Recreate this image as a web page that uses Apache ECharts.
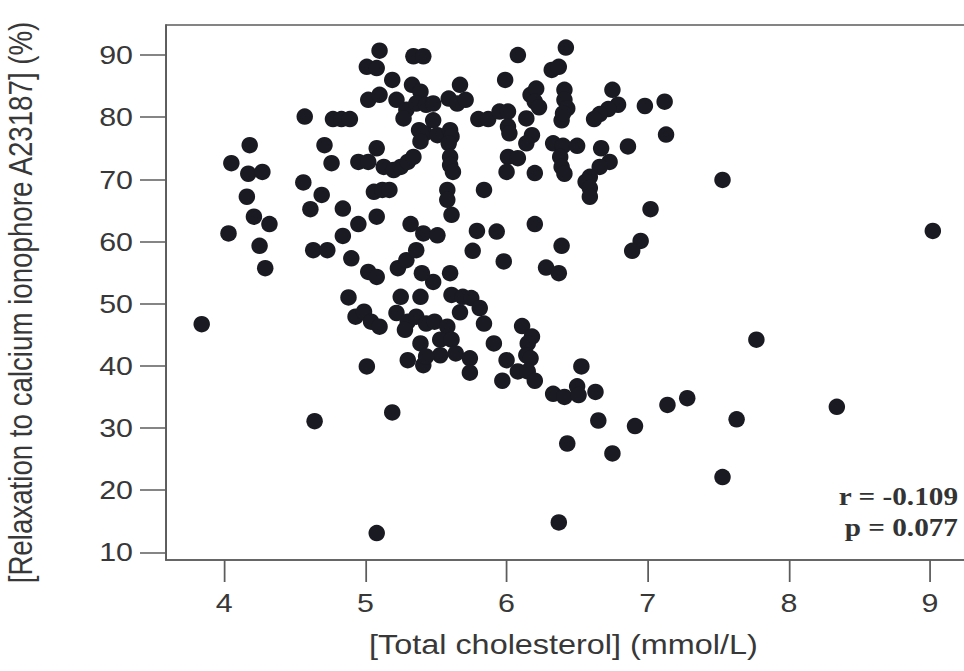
<!DOCTYPE html>
<html>
<head>
<meta charset="utf-8">
<script src="https://cdn.jsdelivr.net/npm/echarts@6/dist/echarts.min.js"></script>
<style>
html,body{margin:0;padding:0;background:#fff;overflow:hidden;}
#wrap{width:964px;height:671px;overflow:hidden;position:relative;background:#fff;}
#chart{width:824px;height:671px;transform:scaleX(1.1699);transform-origin:0 0;}
</style>
</head>
<body>
<div id="wrap"><div id="chart"></div></div>
<script>
// Total cholesterol (mmol/L)
const cholesterol = [
5.10,5.34,5.41,5.01,5.08,5.19,5.33,5.39,5.02,5.10,5.22,5.29,5.36,5.43,5.27,5.38,5.42,5.39,
4.57,4.77,4.83,4.89,4.18,4.71,4.05,4.17,4.27,4.76,5.08,4.95,5.02,
5.13,5.20,5.25,5.30,5.34,
4.56,4.69,4.16,5.06,5.12,5.17,4.61,4.84,4.21,4.32,4.03,5.08,4.95,5.32,4.25,4.84,4.63,4.73,4.90,4.29,5.02,5.08,5.23,5.29,5.36,
6.08,6.42,6.32,6.37,5.99,5.67,
5.48,5.59,5.65,5.71,5.48,5.51,
5.60,5.61,5.59,5.60,5.60,5.62,
5.80,5.87,5.95,6.01,6.01,6.02,6.14,
6.17,6.21,6.20,6.23,
6.41,6.41,6.43,6.39,6.40,
6.75,6.79,6.72,6.66,6.62,6.98,7.12,7.13,
6.18,6.14,
6.33,6.40,6.50,6.38,6.39,6.41,
6.67,6.86,
6.73,6.66,6.59,6.56,6.59,6.59,
6.01,6.08,6.00,6.20,
5.58,5.58,5.61,5.84,
5.41,5.51,5.79,5.93,6.20,5.76,5.98,6.39,7.02,6.95,6.89,6.28,6.37,5.60,5.48,5.40,
3.84,4.88,4.93,4.99,5.04,5.10,5.25,5.39,5.22,5.30,5.36,5.43,5.28,5.39,5.30,5.41,5.01,5.19,4.64,5.08,
5.61,5.69,5.75,5.67,5.81,5.84,
5.49,5.58,5.53,5.61,
5.53,5.64,5.74,5.43,
5.74,5.91,6.11,6.18,6.15,6.00,6.14,6.17,5.97,6.08,6.15,6.20,6.53,6.33,6.41,6.50,6.51,6.63,6.65,6.91,6.43,6.75,6.37,7.14,7.28,
7.53,9.02,7.77,7.63,8.34,7.53
];
// Relaxation to calcium ionophore A23187 (%)
const relaxation = [
90.7,89.8,89.8,88.1,87.9,86.0,85.2,84.1,82.8,83.6,82.8,81.2,82.2,82.0,79.8,77.9,77.4,76.1,
80.1,79.7,79.7,79.7,75.5,75.5,72.6,70.9,71.2,72.6,75.0,72.8,72.8,
72.0,71.5,72.0,72.8,73.6,
69.5,67.5,67.2,68.0,68.3,68.3,65.2,65.3,64.0,62.8,61.3,64.0,62.8,62.8,59.3,60.9,58.6,58.6,57.3,55.7,55.1,54.3,55.7,57.0,58.6,
90.0,91.2,87.6,88.1,86.0,85.2,
82.2,83.0,82.2,82.8,79.5,77.1,
77.9,76.9,75.8,73.6,72.3,71.2,
79.7,79.7,80.9,80.9,78.5,77.4,79.8,
83.6,84.6,82.5,81.6,
84.4,82.8,81.4,79.5,80.6,
84.4,82.0,81.3,80.5,79.7,81.8,82.5,77.2,
77.1,75.8,
75.8,75.4,75.4,73.6,72.0,70.9,
75.0,75.3,
72.8,72.0,70.4,69.6,68.6,67.2,
73.6,73.4,71.2,71.0,
68.3,66.7,64.3,68.3,
61.3,61.0,61.7,61.6,62.8,58.5,56.8,59.3,65.2,60.1,58.5,55.8,54.9,54.9,53.5,54.9,
46.7,51.0,47.9,48.7,47.1,46.3,51.1,51.1,48.5,47.1,47.9,46.8,45.8,43.6,40.9,40.1,39.9,32.5,31.1,13.1,
51.4,51.1,50.9,48.6,49.3,46.8,
47.1,46.3,44.2,44.2,
41.7,42.0,41.2,41.5,
38.9,43.6,46.4,44.7,43.6,40.9,41.7,41.2,37.6,39.1,39.1,37.6,39.9,35.5,35.0,36.7,35.3,35.8,31.2,30.3,27.5,25.9,14.8,33.7,34.8,
69.9,61.7,44.2,31.4,33.4,22.1
];
const xTicks = [4,5,6,7,8,9];
const yTicks = [10,20,30,40,50,60,70,80,90];
const statR = 'r = -0.109';
const statP = 'p = 0.077';

// the original figure's lettering is horizontally wide; the chart is drawn
// narrower and stretched by CSS, dots are pre-compensated to stay round
const STRETCH = 1.1699;
const points = cholesterol.map((x,i)=>[x, relaxation[i]]);
const chart = echarts.init(document.getElementById('chart'), null, {renderer:'svg'});
const axisColor = '#5c5c5c';
const textColor = '#383838';
const fontFam = '"Liberation Sans", Arial, sans-serif';
const fs = 26;
const fsTitle = 27.7;
chart.setOption({
  animation:false,
  grid:{left:166/STRETCH, top:25, width:810/STRETCH, height:535, outerBoundsMode:'none', containLabel:false,
        show:true, borderColor:axisColor, borderWidth:1.5, backgroundColor:'#fff'},
  xAxis:{
    type:'value', min:3.587, max:9.326,
    name:'[Total cholesterol] (mmol/L)', nameLocation:'middle', nameGap:70,
    nameTextStyle:{fontFamily:fontFam, fontSize:fsTitle, color:textColor, padding:[0,13,0,0]},
    axisLine:{show:true, lineStyle:{color:axisColor, width:1.5}},
    axisTick:{show:true, length:22, customValues:xTicks, lineStyle:{color:axisColor, width:1.5}},
    axisLabel:{customValues:xTicks, margin:30, fontFamily:fontFam, fontSize:fs, color:textColor},
    splitLine:{show:false}
  },
  yAxis:{
    type:'value', min:8.76, max:94.83,
    name:'[Relaxation to calcium ionophore A23187] (%)', nameLocation:'middle', nameGap:110,
    nameTextStyle:{fontFamily:fontFam, fontSize:fsTitle, lineHeight:28, color:textColor, padding:[0,20,0,0]},
    axisLine:{show:true, lineStyle:{color:axisColor, width:1.5}},
    axisTick:{show:true, length:26/STRETCH, customValues:yTicks, lineStyle:{color:axisColor, width:1.5}},
    axisLabel:{customValues:yTicks, margin:33/STRETCH, fontFamily:fontFam, fontSize:fs, color:textColor},
    splitLine:{show:false}
  },
  graphic:[
    {type:'text', x:958/STRETCH, y:497, style:{text:statR, font:'bold 25px "Liberation Serif", "Times New Roman", serif', fill:'#333', align:'right', verticalAlign:'middle'}},
    {type:'text', x:958/STRETCH, y:528, style:{text:statP, font:'bold 25px "Liberation Serif", "Times New Roman", serif', fill:'#333', align:'right', verticalAlign:'middle'}}
  ],
  series:[{
    type:'scatter', data:points, symbol:'circle', symbolSize:[16.5/STRETCH, 16.5],
    itemStyle:{color:'#1a1a22', opacity:1}
  }]
});
</script>
</body>
</html>
